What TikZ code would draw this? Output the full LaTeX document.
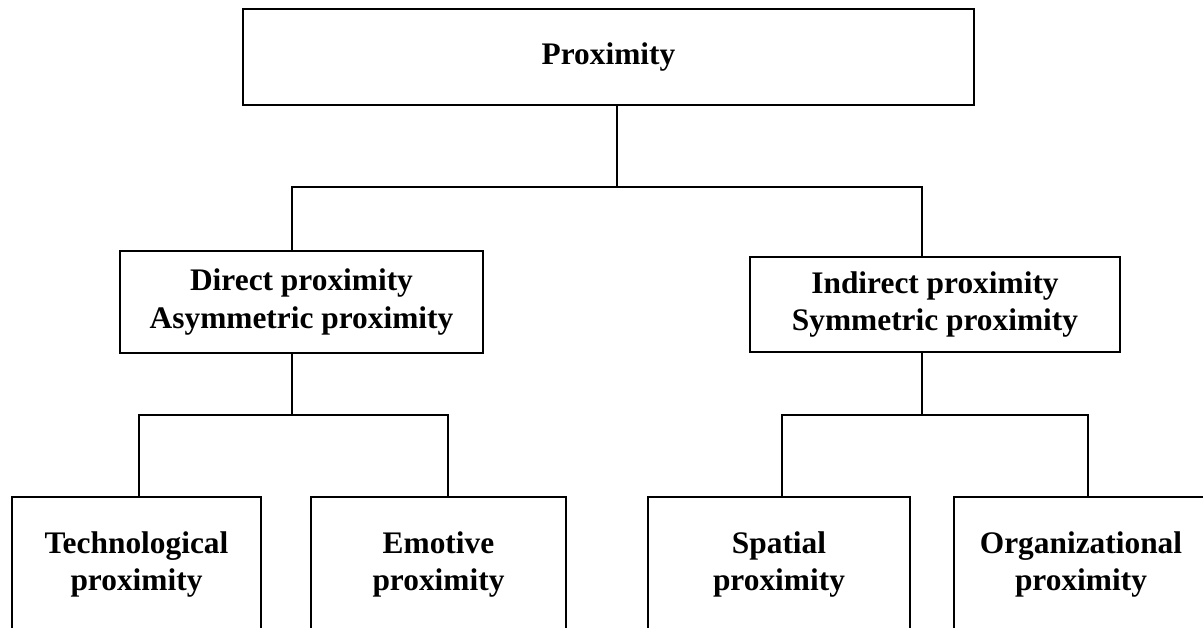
\documentclass[tikz,border=0pt]{standalone}
\usepackage{fontspec}
\setmainfont{Liberation Serif}
\begin{document}
\begin{tikzpicture}[x=1bp,y=-1bp,
  box/.style={draw, line width=1.6bp, inner sep=0pt, align=center,
    font=\fontsize{31.5}{38}\selectfont\bfseries},
  conn/.style={line width=1.6bp}]
\useasboundingbox (0,0) rectangle (1203,628);
\clip (0,0) rectangle (1203,628);
\fill[white] (0,0) rectangle (1203,628);
% nodes
\node[box, line width=2bp, minimum width=731bp, minimum height=96bp] (top) at (608.5,57) {Proximity};
\node[box, minimum width=363bp, minimum height=102bp] (direct) at (301.5,302) {Direct proximity\\Asymmetric proximity};
\node[box, minimum width=370bp, minimum height=95bp] (indirect) at (935,304.5) {Indirect proximity\\Symmetric proximity};
\node[box, minimum width=249bp, minimum height=135bp] (tech) at (136.5,564.5) {Technological\\proximity};
\node[box, minimum width=255bp, minimum height=135bp] (emo) at (438.5,564.5) {Emotive\\proximity};
\node[box, minimum width=262bp, minimum height=135bp] (spatial) at (779,564.5) {Spatial\\proximity};
\node[box, minimum width=254bp, minimum height=135bp] (org) at (1081,564.5) {Organizational\\proximity};
% junctions
\coordinate (b0) at (617,187);
\coordinate (b1L) at (292,187);
\coordinate (b1R) at (922,187);
\coordinate (b2) at (292,415);
\coordinate (b2L) at (139,415);
\coordinate (b2R) at (448,415);
\coordinate (b3) at (922,415);
\coordinate (b3L) at (782,415);
\coordinate (b3R) at (1088,415);
% connectors
\draw[conn] (b0 |- top.south) -- (b0);
\draw[conn] (b1L |- direct.north) -- (b1L) -- (b1R) -- (b1R |- indirect.north);
\draw[conn] (b2 |- direct.south) -- (b2);
\draw[conn] (b2L |- tech.north) -- (b2L) -- (b2R) -- (b2R |- emo.north);
\draw[conn] (b3 |- indirect.south) -- (b3);
\draw[conn] (b3L |- spatial.north) -- (b3L) -- (b3R) -- (b3R |- org.north);
\end{tikzpicture}
\end{document}
